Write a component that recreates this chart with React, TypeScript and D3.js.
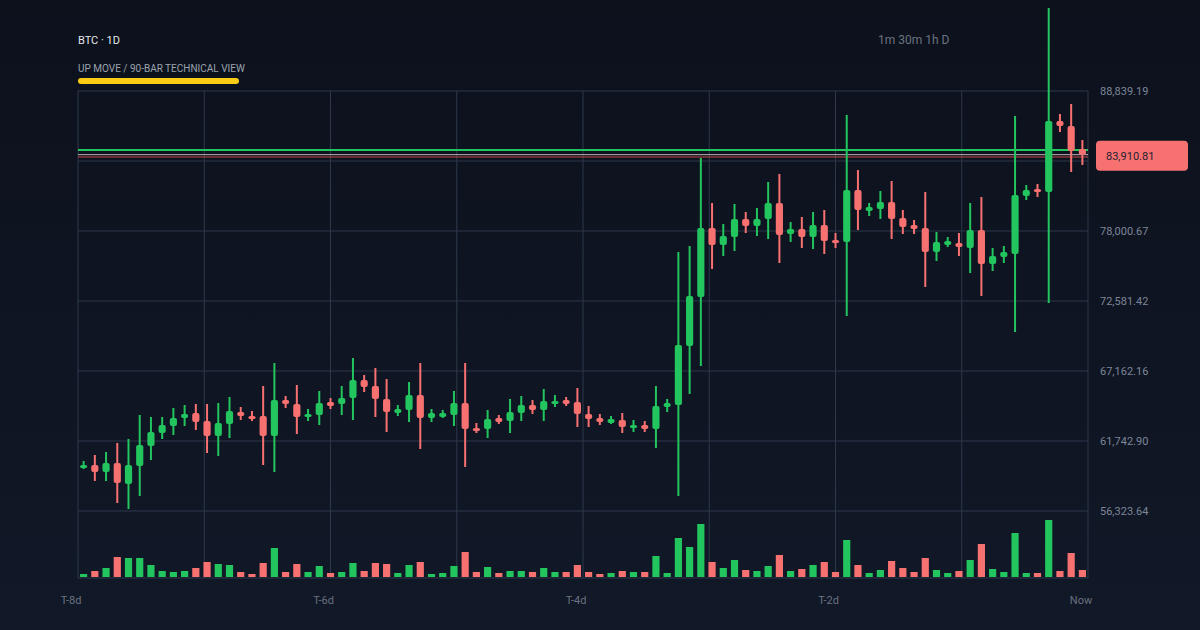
import React from "react";
import * as d3 from "d3";

const symbolLabel = "BTC · 1D";
const subtitle = "UP MOVE / 90-BAR TECHNICAL VIEW";
const timeframes = "1m 30m 1h D";

const opens = [59653,59885,59343,60040,58414,59807,61355,62362,62904,63524, 63911,63292,62129,63059,63988,63678,63678,62129,64917,64607, 63601,63756,64762,64607,65072,66465,66000,64994,63911,64143, 65304,63524,63601,63756,64685,62749,62671,63524,63292,63911, 64530,64143,64607,64917,64762,63833,63524,63137,63369,62749, 62982,62671,64375,64530,69097,72891,78233,76917,77536,78930, 78387,78930,80169,77768,78155,77536,78465,77304,77149,81175, 79550,79704,80246,79008,78465,78233,76375,76917,77072,76685, 78078,75446,75988,76220,80710,81252,81020,86517,86129,84349];
const highs = [60195,60659,60891,61588,61897,63756,63601,63601,64298,64530, 64607,64607,64685,65149,64375,64066,66000,67782,65227,66078, 64220,65614,65072,66000,68169,66853,67395,66542,64530,66310, 67782,64220,64143,65614,67782,63137,64143,63756,64994,65227, 64917,65768,65304,65149,65846,64452,63833,63678,63911,63369, 63292,66000,64994,76375,76839,83653,80169,78542,80091,79472, 79782,81794,82413,78697,79085,79472,79627,77846,86982,82723, 80169,81098,81872,79627,78852,81020,77923,77536,77846,80169, 80633,76685,76839,86904,81562,81639,95265,87059,87833,85046];
const lows = [59576,58647,58647,56943,56478,57484,60272,61897,62207,62904, 62594,60814,60581,61975,63369,63292,59885,59343,64298,62284, 63292,62982,64220,63756,63369,65536,63601,62439,63678,63214, 61123,63214,63524,62904,59730,62362,61975,63059,62362,63292, 63833,63292,64375,64452,62826,62826,62982,63059,62362,62439, 62439,61201,63988,57484,65381,67549,75059,76065,76453,77846, 77613,77381,75524,77149,76685,76607,76220,76685,71420,78078, 79162,78930,77381,77768,77768,73665,75679,76762,76065,74749, 72968,74904,75524,70181,80401,80633,72427,85665,82568,83111];
const closes = [59885,59343,60040,58492,59885,61433,62439,62982,63524,63833, 63214,62129,63137,64066,63678,63446,62129,64917,64607,63601, 63833,64685,64452,65072,66465,65923,64994,63988,64220,65304, 63524,63911,63911,64685,62671,62517,63446,63214,63988,64530, 64143,64840,64840,64607,63833,63446,63214,63446,62826,62982, 62671,64452,64685,69175,72968,78233,76917,77613,78930,78387, 78930,80169,77691,78155,77536,78465,77227,77072,81175,79627, 79859,80246,78930,78310,78155,76375,77149,77227,76762,78078, 75446,76065,76375,80788,81175,81020,86517,86129,84195,83910.81];
const volumes = [3,6,9,20,19,19,12,6,5,6, 9,15,13,12,5,3,14,29,5,13, 5,11,4,5,14,6,14,13,4,12, 15,3,4,11,25,5,10,4,6,6, 5,9,5,5,12,5,3,4,6,5, 5,21,4,39,30,53,15,9,17,7, 6,11,22,6,8,12,15,5,37,12, 4,7,16,9,5,19,7,4,6,17, 33,8,5,44,4,4,57,6,24,7];

const yTicks = [88839.19, 83419.93, 78000.67, 72581.42, 67162.16, 61742.90, 56323.64];
const xTickLabels = ["T-8d", "T-6d", "T-4d", "T-2d", "Now"];
const resistanceLevel = 84272;
const lastPrice = 83910.81;
const prevLevel = 83729;

const W = 1200, H = 630;
const L = 78, R = 1088, T = 91, B = 578;
const GREEN = "#22c55e", RED = "#f87171";

export default function App() {
  const idx = d3.range(opens.length);
  const x = d3.scaleBand<number>().domain(idx).range([L, R]).paddingInner(0.36).paddingOuter(0.18);
  const y = d3.scaleLinear().domain([yTicks[yTicks.length - 1], yTicks[0]]).range([511, T]);
  const vMax = d3.max(volumes) as number;
  const vy = d3.scaleLinear().domain([0, vMax]).range([577, 520]);
  const gx = d3.scaleLinear().domain([0, 8]).range([L, R]);
  const bw = x.bandwidth();
  const fmt = d3.format(",.2f");
  const font = "Roboto, 'Noto Sans', sans-serif";
  const grid = "#2d384b";

  return (
    <svg width={W} height={H} style={{ position: "fixed", left: 0, top: 0 }} fontFamily={font}>
      <defs>
        <linearGradient id="bg" x1="0" y1="0" x2="0" y2="1">
          <stop offset="0" stopColor="#0c111c" />
          <stop offset="1" stopColor="#111827" />
        </linearGradient>
      </defs>
      <rect width={W} height={H} fill="url(#bg)" />
      <text x={78} y={44} fill="#e5e7eb" fontSize={11}>{symbolLabel}</text>
      <text x={78} y={72} fill="#9ca3af" fontSize={10}>{subtitle}</text>
      <rect x={78} y={78} width={161} height={6} rx={3} fill="#facc15" />
      <text x={878} y={44} fill="#6b7280" fontSize={12}>{timeframes}</text>

      {yTicks.map((t) => (
        <line key={"h" + t} x1={L} x2={R} y1={y(t)} y2={y(t)} stroke={grid} strokeWidth={1} />
      ))}
      <line x1={L} x2={R} y1={B} y2={B} stroke={grid} />
      {d3.range(9).map((k) => (
        <line key={"v" + k} x1={gx(k)} x2={gx(k)} y1={T} y2={B} stroke={grid} />
      ))}

      {idx.map((i) => (
        <rect key={"vol" + i} x={x(i)} y={vy(volumes[i])} width={bw} height={577 - vy(volumes[i])}
          fill={closes[i] >= opens[i] ? GREEN : RED} />
      ))}

      <line x1={L} x2={R} y1={y(resistanceLevel)} y2={y(resistanceLevel)} stroke={GREEN} strokeWidth={2} />
      <line x1={L} x2={R} y1={y(lastPrice)} y2={y(lastPrice)} stroke="#f3d6d6" strokeWidth={1} opacity={0.8} />
      <line x1={L} x2={R} y1={y(prevLevel)} y2={y(prevLevel)} stroke="#c24848" strokeWidth={1} />

      {idx.map((i) => {
        const up = closes[i] >= opens[i];
        const c = up ? GREEN : RED;
        const cx = (x(i) as number) + bw / 2;
        const top = y(Math.max(opens[i], closes[i]));
        const bot = y(Math.min(opens[i], closes[i]));
        const h = Math.max(3, bot - top);
        return (
          <g key={"c" + i}>
            <line x1={cx} x2={cx} y1={y(highs[i])} y2={y(lows[i])} stroke={c} strokeWidth={2} />
            <rect x={cx - bw / 2} y={(top + bot) / 2 - h / 2} width={bw} height={h} rx={2} fill={c} />
          </g>
        );
      })}

      {yTicks.map((t) => (
        <text key={"yl" + t} x={1100} y={y(t)} dy="0.35em" fill="#7d8699" fontSize={11}>{fmt(t)}</text>
      ))}

      <rect x={1096} y={y(lastPrice) - 14} width={92} height={30} rx={4} fill={RED} />
      <text x={1106} y={y(lastPrice) + 1} dy="0.35em" fill="#1f2230" fontSize={11}>{fmt(lastPrice)}</text>

      {xTickLabels.map((lab, k) => (
        <text key={lab} x={gx(k * 2) - 7} y={600} dy="0.35em" textAnchor="middle" fill="#6b7280" fontSize={11}>{lab}</text>
      ))}
    </svg>
  );
}
